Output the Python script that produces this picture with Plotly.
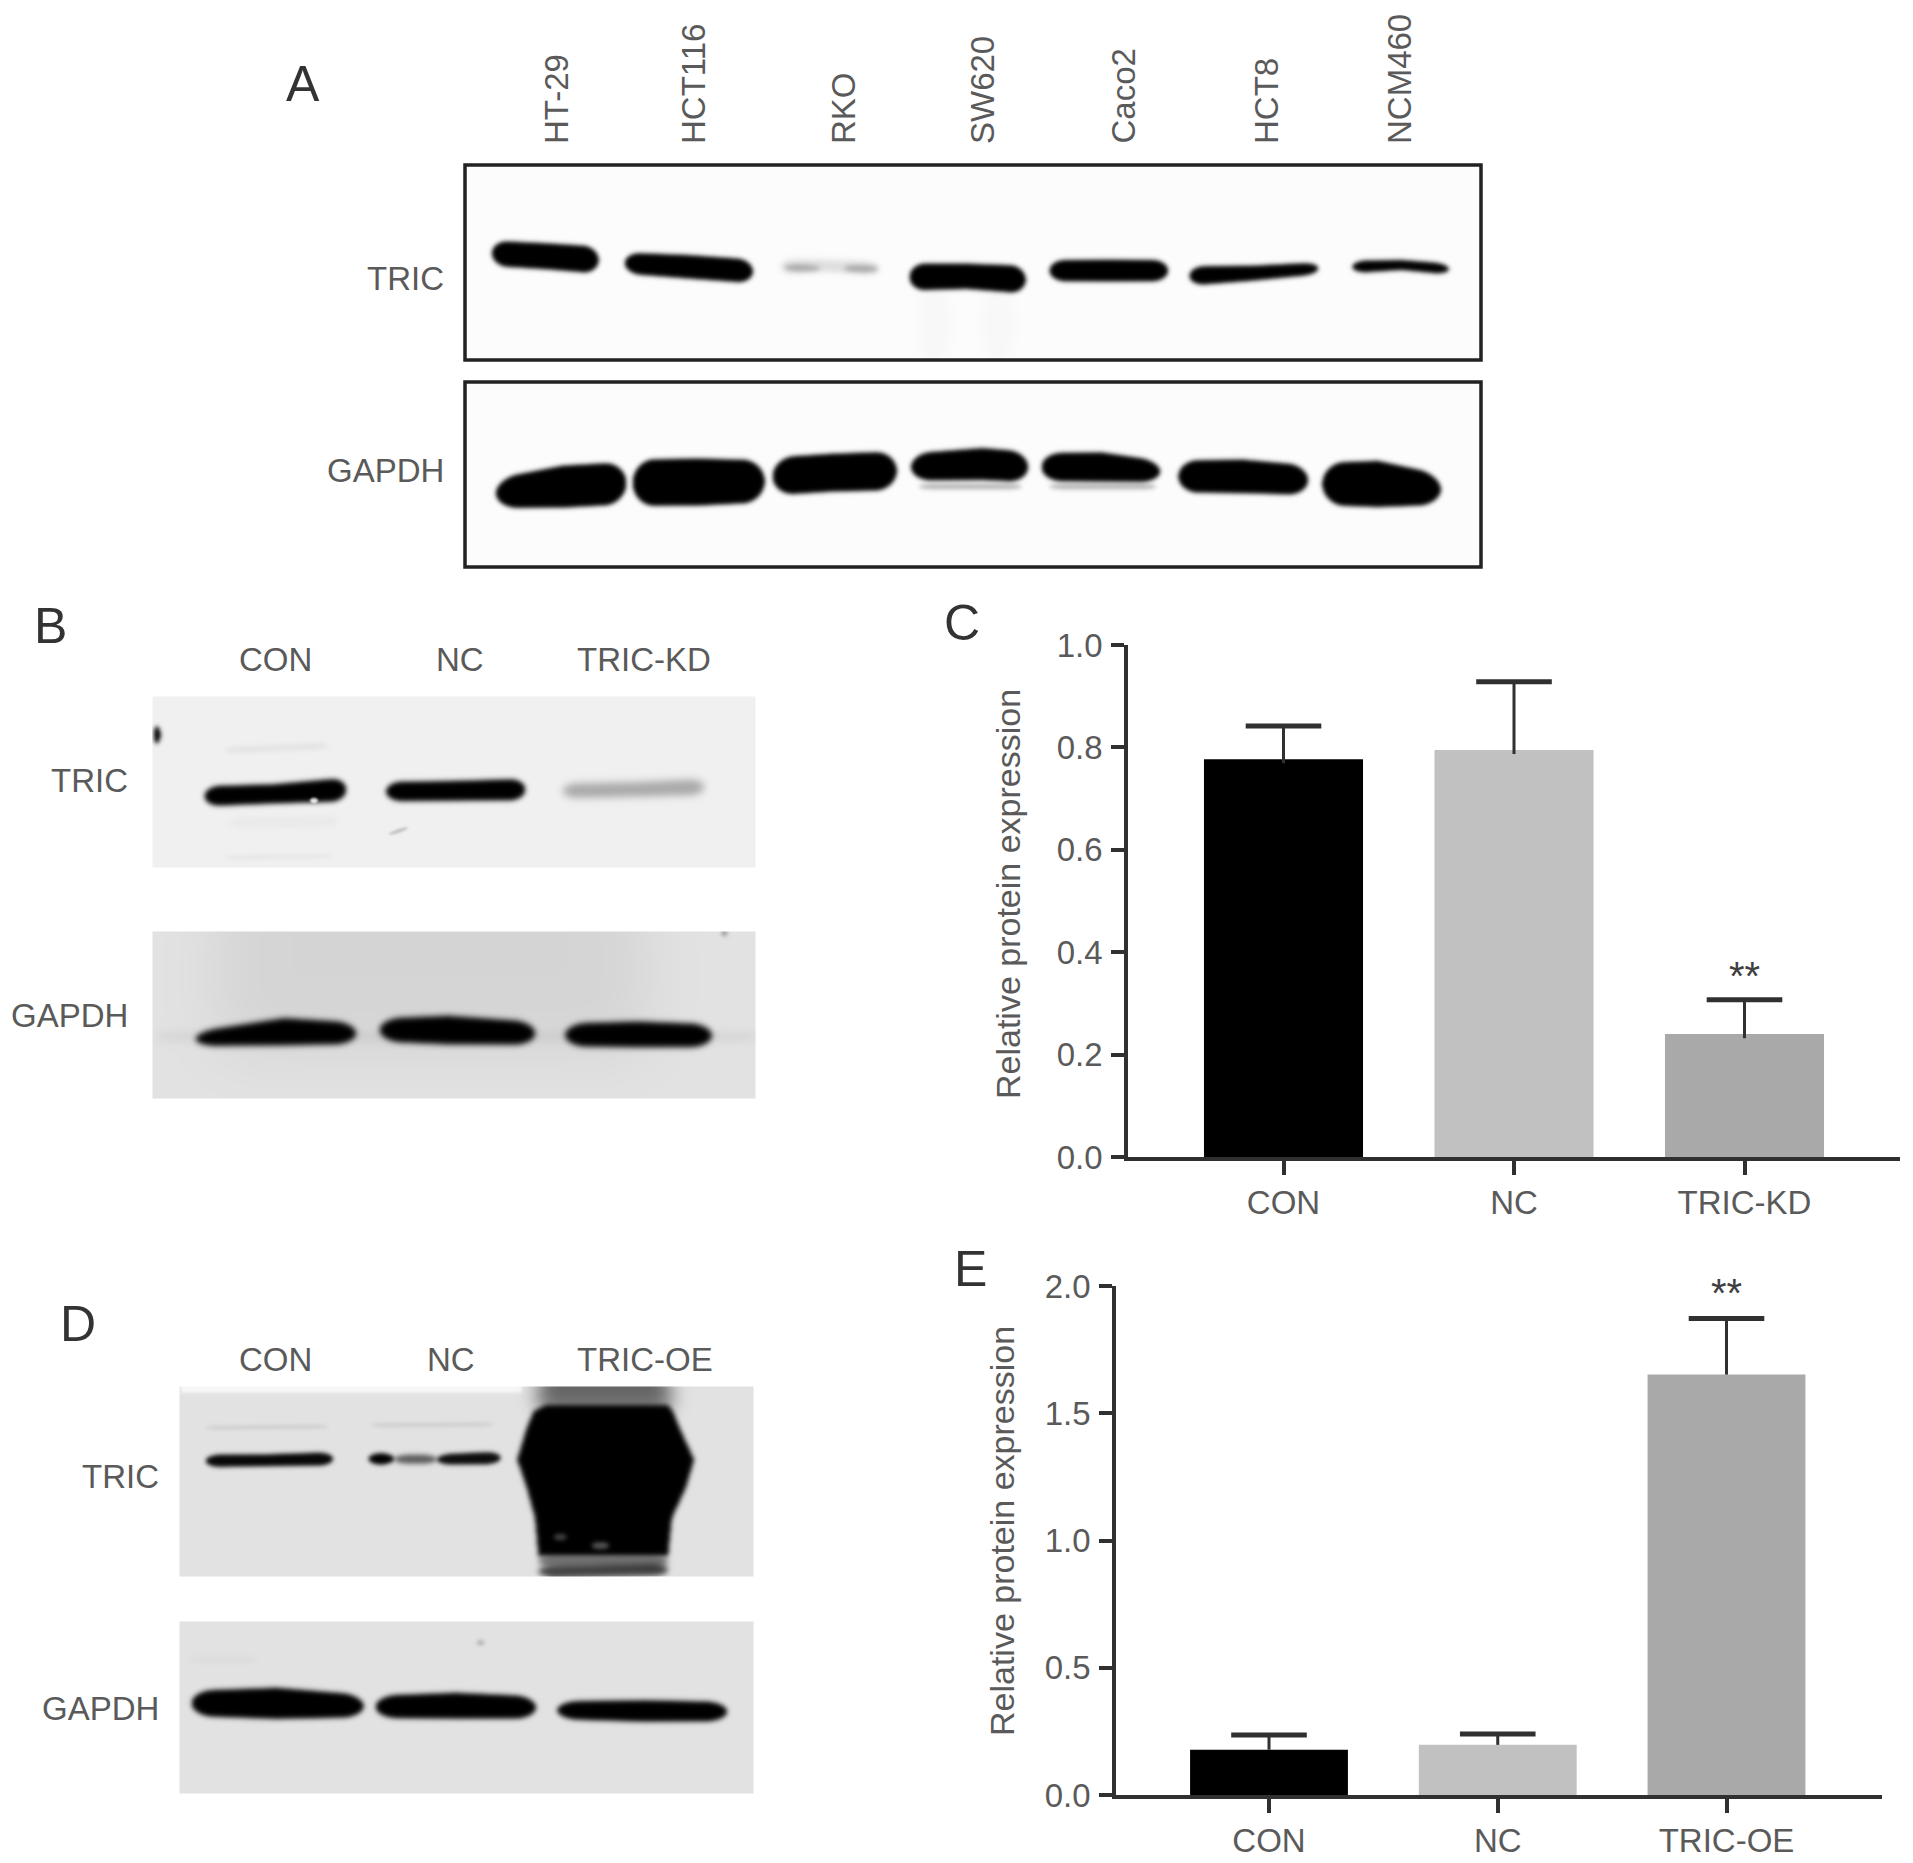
import numpy as np
import plotly.graph_objects as go

# ---------- chart values ----------
kd_categories = ["CON", "NC", "TRIC-KD"]
kd_values = [0.777, 0.795, 0.240]
kd_upper = [0.842, 0.928, 0.307]
oe_categories = ["CON", "NC", "TRIC-OE"]
oe_values = [0.178, 0.197, 1.652]
oe_upper = [0.236, 0.240, 1.872]
bar_colors = ["#000000", "#c1c1c1", "#a9a9a9"]
cell_lines = ["HT-29", "HCT116", "RKO", "SW620", "Caco2", "HCT8", "NCM460"]
cell_x = [556, 693, 843, 982, 1123, 1266, 1399]

W, H = 1913, 1863
TXT = "#5a5a5a"
FONT = "Liberation Sans"
FS = 33
AX = "#303030"


# ---------- western blot drawing helpers ----------
def blur(a, s):
    if s <= 0:
        return a
    r = int(3 * s) + 1
    k = np.array([np.exp(-0.5 * (i / s) ** 2) for i in range(-r, r + 1)])
    k /= k.sum()
    p = np.pad(a, r, mode="edge")
    p = np.apply_along_axis(lambda v: np.convolve(v, k, mode="same"), 0, p)
    p = np.apply_along_axis(lambda v: np.convolve(v, k, mode="same"), 1, p)
    return p[r:-r, r:-r]


def paint(box, bg, bands, conv):
    x0, y0, x1, y1 = box
    xx = np.arange(x0, x1)
    yy = np.arange(y0, y1)
    img = np.full((y1 - y0, x1 - x0), float(bg))
    for b in bands:
        pts = [conv(*p) for p in b["pts"]]
        px, py, ph = [np.array(v, float) for v in zip(*pts)]
        yc = np.interp(xx, px, py)
        hh = np.interp(xx, px, ph)
        r = b.get("round", 16)
        t = np.clip(np.minimum(xx - px[0], px[-1] - xx) / r, 0, 1)
        hh = hh * np.sqrt(np.clip(1 - (1 - t) ** 2, 0, 1))
        hh[(xx < px[0]) | (xx > px[-1])] = -5
        d = np.abs(yy[:, None] - yc[None, :])
        al = np.clip((hh[None, :] - d) / 1.5 + 0.5, 0, 1)
        al = blur(al, b.get("s", 2.2))
        if "add" in b:
            img = img + al * b["add"]
        else:
            img = img * (1 - al * b.get("dark", 1.0))
    return img


def vblob(img, box, conv, rows, dark=1.0, s=2.5):
    x0, y0, x1, y1 = box
    xx = np.arange(x0, x1)
    yy = np.arange(y0, y1)
    l = [conv(a, y, 0) for y, a, _ in rows]
    r = [conv(b, y, 0) for y, _, b in rows]
    ys = [v[1] for v in l]
    left = np.interp(yy, ys, [v[0] for v in l])
    right = np.interp(yy, ys, [v[0] for v in r])
    al = ((xx[None, :] >= left[:, None]) & (xx[None, :] <= right[:, None])).astype(float)
    al[(yy < ys[0]) | (yy > ys[-1]), :] = 0
    al = blur(al, s)
    return img * (1 - al * dark)


# conversion from reading scale of each panel to page pixels
conv_a = lambda x, y, h: (270 + x / 1.2645, y / 2.658, 1.12 * h / 2.658)
conv_b = lambda x, y, h: (x / 2.01, 600 + y / 3.015, 1.08 * h / 3.015)
conv_d = lambda x, y, h: (40 + x / 2.119, 1280 + y / 2.904, 1.08 * h / 2.904)

# Panel A
box_a1 = (466, 166, 1480, 359)
bands_a1 = [
    {"pts": [(280, 672, 30), (350, 680, 31), (415, 690, 32)]},
    {"pts": [(448, 698, 25), (530, 708, 28), (610, 720, 28)]},
    {"pts": [(645, 708, 18), (700, 705, 14), (770, 712, 16)], "dark": 0.12, "s": 3},
    {"pts": [(650, 710, 8), (695, 712, 7)], "dark": 0.25, "s": 2.5},
    {"pts": [(725, 712, 8), (768, 714, 8)], "dark": 0.25, "s": 2.5},
    {"pts": [(808, 735, 32), (880, 733, 30), (955, 742, 33)]},
    {"pts": [(985, 718, 25), (1060, 718, 26), (1135, 718, 25)]},
    {"pts": [(1162, 732, 23), (1240, 725, 18), (1325, 712, 14)]},
    {"pts": [(1368, 708, 15), (1430, 703, 12), (1490, 714, 13)]},
    {"pts": [(820, 860, 90), (860, 860, 90)], "dark": 0.018, "s": 6},
    {"pts": [(900, 860, 90), (940, 860, 90)], "dark": 0.018, "s": 6},
]
box_a2 = (466, 383, 1480, 566)
bands_a2 = [
    {"pts": [(285, 1310, 35), (370, 1292, 50), (450, 1283, 50)], "round": 22},
    {"pts": [(458, 1282, 55), (540, 1280, 56), (625, 1278, 50)], "round": 22},
    {"pts": [(635, 1265, 45), (710, 1255, 45), (792, 1250, 46)], "round": 22},
    {"pts": [(810, 1240, 32), (900, 1232, 38), (958, 1240, 36)], "round": 20},
    {"pts": [(820, 1292, 6), (950, 1292, 6)], "dark": 0.3},
    {"pts": [(975, 1240, 33), (1050, 1240, 35), (1125, 1252, 25)], "round": 20},
    {"pts": [(985, 1292, 6), (1120, 1292, 6)], "dark": 0.3},
    {"pts": [(1148, 1265, 38), (1230, 1265, 40), (1312, 1275, 35)], "round": 20},
    {"pts": [(1330, 1285, 50), (1400, 1285, 55), (1480, 1300, 36)], "round": 22},
]

# Panel B
box_b1 = (153, 697, 756, 868)
bands_b1 = [
    {"pts": [(308, 405, 36), (322, 405, 26)], "round": 8},
    {"pts": [(450, 452, 8), (660, 438, 8)], "dark": 0.06, "s": 2.5},
    {"pts": [(410, 590, 28), (550, 583, 27), (695, 570, 33)], "s": 2.5},
    {"pts": [(622, 602, 7), (638, 602, 7)], "add": 180, "round": 5, "s": 1},
    {"pts": [(775, 576, 27), (910, 574, 28), (1055, 570, 30)], "s": 2.5},
    {"pts": [(1130, 574, 20), (1270, 570, 20), (1415, 562, 22)], "dark": 0.3, "s": 4},
    {"pts": [(460, 670, 14), (680, 665, 14)], "dark": 0.03, "s": 3},
    {"pts": [(450, 775, 6), (670, 770, 6)], "dark": 0.04, "s": 2},
    {"pts": [(780, 705, 6), (820, 685, 6)], "dark": 0.2, "s": 1.2},
]
box_b2 = (153, 932, 756, 1099)
bands_b2 = [
    {"pts": [(430, 1150, 200), (1300, 1150, 200)], "dark": 0.06, "s": 30},
    {"pts": [(310, 1315, 6), (1520, 1315, 6)], "dark": 0.12, "s": 5},
    {"pts": [(392, 1322, 20), (570, 1300, 38), (715, 1305, 30)], "round": 22, "s": 3},
    {"pts": [(762, 1295, 32), (900, 1295, 40), (1075, 1305, 32)], "round": 22, "s": 3},
    {"pts": [(1135, 1310, 32), (1280, 1308, 36), (1430, 1312, 32)], "round": 22, "s": 3},
    {"pts": [(1450, 1005, 5), (1460, 1005, 5)], "dark": 0.5, "round": 3},
]

# Panel D
box_d1 = (180, 1387, 754, 1577)
bands_d1 = [
    {"pts": [(297, 315, 10), (1020, 315, 10)], "add": 22, "round": 1, "s": 1.5},
    {"pts": [(350, 428, 4), (610, 424, 4)], "dark": 0.12, "s": 2},
    {"pts": [(700, 420, 4), (960, 418, 4)], "dark": 0.12, "s": 2},
    {"pts": [(350, 524, 17), (480, 522, 16), (620, 518, 18)], "s": 2.2, "dark": 0.97},
    {"pts": [(695, 518, 17), (750, 518, 15)], "s": 2.2},
    {"pts": [(750, 519, 12), (840, 519, 12)], "dark": 0.6, "s": 2.5},
    {"pts": [(840, 520, 14), (975, 515, 17)], "s": 2.2, "dark": 0.95},
    {"pts": [(1050, 340, 38), (1340, 340, 38)], "dark": 0.55, "s": 9},
    {"pts": [(1055, 815, 16), (1330, 815, 16)], "dark": 0.5, "s": 3},
    {"pts": [(1055, 845, 14), (1330, 840, 16)], "dark": 0.72, "s": 3},
]
rows_oe = [(362, 1070, 1330), (380, 1045, 1340), (430, 1030, 1355), (520, 1010, 1385), (600, 1030, 1368),
           (690, 1048, 1338), (800, 1055, 1330)]
spots_oe = [
    {"pts": [(1088, 745, 8), (1115, 745, 8)], "add": 70, "round": 6},
    {"pts": [(1168, 770, 9), (1205, 770, 9)], "add": 85, "round": 7},
]
box_d2 = (180, 1622, 754, 1794)
bands_d2 = [
    {"pts": [(320, 1228, 34), (500, 1228, 42), (685, 1236, 30)], "round": 22, "s": 2.5},
    {"pts": [(710, 1238, 30), (880, 1235, 35), (1050, 1240, 30)], "round": 22, "s": 2.5},
    {"pts": [(1095, 1248, 24), (1280, 1250, 29), (1455, 1252, 26)], "round": 22, "s": 2.5},
    {"pts": [(925, 1052, 5), (940, 1052, 5)], "dark": 0.35, "round": 4},
    {"pts": [(310, 1100, 8), (460, 1100, 8)], "dark": 0.03, "s": 3},
]

blot_a1 = paint(box_a1, 252, bands_a1, conv_a)
blot_a2 = paint(box_a2, 252, bands_a2, conv_a)
blot_b1 = paint(box_b1, 240, bands_b1, conv_b)
blot_b2 = paint(box_b2, 226, bands_b2, conv_b)
blot_d1 = paint(box_d1, 226, bands_d1, conv_d)
blot_d1 = vblob(blot_d1, box_d1, conv_d, rows_oe)
for sp in spots_oe:
    blot_d1 = blot_d1 + paint(box_d1, 0, [sp], conv_d)
blot_d2 = paint(box_d2, 226, bands_d2, conv_d)

fig = go.Figure()


def add_blot(img, box):
    fig.add_trace(go.Heatmap(
        z=np.clip(img, 0, 255).round().astype(np.uint8), x0=box[0], dx=1, y0=box[1], dy=1,
        zmin=0, zmax=255, colorscale=[[0, "#000000"], [1, "#ffffff"]],
        showscale=False, hoverinfo="skip", xaxis="x", yaxis="y"))


for im, bx in [(blot_a1, box_a1), (blot_a2, box_a2), (blot_b1, box_b1),
               (blot_b2, box_b2), (blot_d1, box_d1), (blot_d2, box_d2)]:
    add_blot(im, bx)


# ---------- bar charts ----------
def add_bars(cats, vals, tops, xa, ya, base_minus):
    fig.add_trace(go.Bar(x=cats, y=vals, marker=dict(color=bar_colors, line=dict(width=0)),
                         xaxis=xa, yaxis=ya, showlegend=False))
    for c, v, t in zip(cats, vals, tops):
        fig.add_trace(go.Scatter(x=[c, c], y=[v - base_minus, t], mode="lines",
                                 line=dict(color=AX, width=3), xaxis=xa, yaxis=ya,
                                 showlegend=False, cliponaxis=False))
    fig.add_trace(go.Scatter(x=cats, y=tops, mode="markers",
                             marker=dict(symbol="line-ew", size=54, color=AX,
                                         line=dict(width=5, color=AX)),
                             xaxis=xa, yaxis=ya, showlegend=False, cliponaxis=False))


add_bars(kd_categories, kd_values, kd_upper, "x2", "y2", 0.008)
add_bars(oe_categories, oe_values, oe_upper, "x3", "y3", 0.0)

font = dict(family=FONT, size=FS, color=TXT)


def xdom(a, b):
    return [a / W, b / W]


def ydom(top, bottom):
    return [(H - bottom) / H, (H - top) / H]


def cat_range(first_center, spacing, left, right):
    return [(left - first_center) / spacing, (right - first_center) / spacing]


axis_common = dict(showgrid=False, zeroline=False, showline=True, linecolor=AX, linewidth=3.5,
                   ticks="outside", tickcolor=AX, tickwidth=3.5, tickfont=font, automargin=False)

fig.update_layout(
    template="none",
    width=W, height=H, margin=dict(l=0, r=0, t=0, b=0, pad=0),
    paper_bgcolor="#ffffff", plot_bgcolor="rgba(0,0,0,0)", showlegend=False,
    bargap=0.31,
    xaxis=dict(domain=[0, 1], range=[0, W], visible=False, fixedrange=True, automargin=False),
    yaxis=dict(domain=[0, 1], range=[H, 0], visible=False, fixedrange=True, automargin=False),
    xaxis2=dict(domain=xdom(1128, 1900), anchor="y2", type="category", categoryorder="array",
                categoryarray=kd_categories, range=cat_range(1283.5, 230.5, 1128, 1900),
                ticklen=14, ticklabelstandoff=0, **axis_common),
    yaxis2=dict(domain=ydom(645, 1157), anchor="x2", range=[0, 1], tickvals=[0, .2, .4, .6, .8, 1],
                tickformat=".1f", ticklen=13, ticklabelstandoff=2, **axis_common),
    xaxis3=dict(domain=xdom(1116, 1882), anchor="y3", type="category", categoryorder="array",
                categoryarray=oe_categories, range=cat_range(1269, 228.75, 1116, 1882),
                ticklen=14, ticklabelstandoff=0, **axis_common),
    yaxis3=dict(domain=ydom(1286, 1795), anchor="x3", range=[0, 2], tickvals=[0, .5, 1, 1.5, 2],
                tickformat=".1f", ticklen=13, ticklabelstandoff=2, **axis_common),
)


# ---------- frames and text ----------
for y0, y1 in [(165, 360), (382, 567)]:
    fig.add_shape(type="rect", x0=465, x1=1481, y0=y0, y1=y1, xref="x", yref="y",
                  line=dict(color="#222222", width=3.5), layer="above")


def note(text, x, y, size=FS, color=TXT, xa="center", ya="middle", angle=0):
    fig.add_annotation(text=text, x=x, y=y, xref="x", yref="y", showarrow=False,
                       xanchor=xa, yanchor=ya, textangle=angle,
                       font=dict(family=FONT, size=size, color=color))


for name, x in zip(cell_lines, cell_x):
    note(name, x, 146, ya="bottom", angle=-90)

for text, x, y in [("TRIC", 446, 278), ("GAPDH", 446, 470), ("TRIC", 130, 780), ("GAPDH", 130, 1015),
                   ("TRIC", 161, 1476), ("GAPDH", 161, 1708)]:
    note(text, x, y, xa="right")

for text, x, y in [("CON", 275, 659), ("NC", 460, 659), ("TRIC-KD", 644, 659),
                   ("CON", 275, 1359), ("NC", 451, 1359), ("TRIC-OE", 645, 1359)]:
    note(text, x, y)

for text, x, y in [("A", 303, 84), ("B", 50, 626), ("C", 962, 623), ("D", 78, 1324), ("E", 970, 1269)]:
    note(text, x, y, size=50, color="#333333")

note("Relative protein expression", 1008, 894, size=34, angle=-90)
note("Relative protein expression", 1002, 1531, size=34, angle=-90)

note("**", 1744, 976, size=40, color="#404040")
note("**", 1726, 1293, size=40, color="#404040")

fig.write_html("out.html", config={"displayModeBar": False},
               post_script="document.body.style.margin='0';")
